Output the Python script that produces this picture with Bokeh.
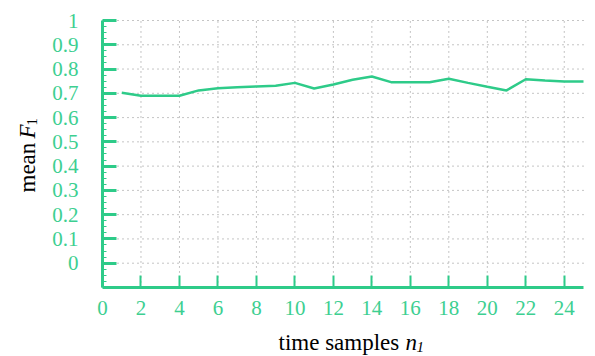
import math
from bokeh.plotting import figure
from bokeh.models import Range1d, FixedTicker, NumeralTickFormatter, Label
from bokeh.embed import file_html
from bokeh.resources import INLINE

# ---- data ----
time_samples = list(range(1, 26))
mean_f1 = [0.702, 0.690, 0.690, 0.690, 0.712, 0.721, 0.725, 0.728, 0.731, 0.743,
           0.720, 0.736, 0.756, 0.769, 0.746, 0.746, 0.746, 0.760, 0.743, 0.727,
           0.712, 0.758, 0.753, 0.749, 0.749]
x_ticks = [0, 2, 4, 6, 8, 10, 12, 14, 16, 18, 20, 22, 24]
y_ticks = [0, 0.1, 0.2, 0.3, 0.4, 0.5, 0.6, 0.7, 0.8, 0.9, 1.0]
x_bounds = (0, 25)
y_bounds = (-0.1, 1.0)

GREEN = "#2ecb89"
LABEL_GREEN = "#3dcf91"
FONT = "Liberation Serif"

# geometry of the canvas (pixels): axis corner and scale
W, H = 595, 356
X0_PX, XPX_PER_UNIT = 102, 19.24
Y1_PX, YPX_PER_UNIT = 20, 242.7

x_start = -X0_PX / XPX_PER_UNIT
x_end = (W - X0_PX) / XPX_PER_UNIT
y_end = 1.0 + Y1_PX / YPX_PER_UNIT
y_start = 1.0 - (H - Y1_PX) / YPX_PER_UNIT

p = figure(width=W, height=H, output_backend="svg", toolbar_location=None,
           x_range=Range1d(x_start, x_end), y_range=Range1d(y_start, y_end),
           min_border=0)
p.title.visible = False
p.outline_line_color = None
p.background_fill_color = "white"
p.border_fill_color = "white"
p.xgrid.visible = False
p.ygrid.visible = False

# dotted grid (drawn from the tick lists, limited to the axis box)
gx = x_ticks[1:]
p.segment(x0=gx, x1=gx, y0=[y_bounds[0]] * len(gx), y1=[y_bounds[1]] * len(gx),
          line_color="#8a8a8a", line_dash="1 4", line_width=1)
p.segment(x0=[x_bounds[0]] * len(y_ticks), x1=[x_bounds[1]] * len(y_ticks),
          y0=y_ticks, y1=y_ticks,
          line_color="#8a8a8a", line_dash="1 4", line_width=1)

p.line(time_samples, mean_f1, line_color=GREEN, line_width=2.5)

y_minor = [round(-0.1 + 0.025 * i, 4) for i in range(45)]
y_minor = [v for v in y_minor if abs(round(v * 10) - v * 10) > 1e-6]

xa = p.xaxis[0]
ya = p.yaxis[0]
xa.fixed_location = y_bounds[0]
ya.fixed_location = x_bounds[0]
xa.bounds = x_bounds
ya.bounds = y_bounds
xa.ticker = FixedTicker(ticks=x_ticks)
ya.ticker = FixedTicker(ticks=y_ticks, minor_ticks=y_minor)
ya.formatter = NumeralTickFormatter(format="0.[0]")

for ax in (xa, ya):
    ax.axis_line_color = GREEN
    ax.axis_line_width = 3
    ax.major_tick_line_color = GREEN
    ax.major_tick_out = 0
    ax.major_label_text_font = FONT
    ax.major_label_text_font_size = "21px"
    ax.major_label_text_color = LABEL_GREEN

xa.major_tick_in = 12
xa.major_tick_line_width = 2
xa.minor_tick_line_color = None
xa.major_label_standoff = 14

ya.major_tick_in = 14
ya.major_tick_line_width = 3
ya.minor_tick_line_color = GREEN
ya.minor_tick_line_width = 1
ya.minor_tick_in = 4
ya.minor_tick_out = 0
ya.major_label_standoff = 24

# ---- axis labels ----
def dx(px):
    return (px - X0_PX) / XPX_PER_UNIT

def dy(py):
    return 1.0 - (py - Y1_PX) / YPX_PER_UNIT

xl_y = dy(342)
p.add_layout(Label(x=dx(278), y=xl_y, text="time samples", text_font=FONT,
                   text_font_size="23px", text_color="black",
                   text_align="left", text_baseline="alphabetic"))
p.add_layout(Label(x=dx(405), y=xl_y, text="n", text_font=FONT,
                   text_font_style="italic", text_font_size="23px",
                   text_color="black", text_align="left",
                   text_baseline="alphabetic"))
p.add_layout(Label(x=dx(416), y=dy(346), text="1", text_font=FONT,
                   text_font_style="italic", text_font_size="15px",
                   text_color="black", text_align="left",
                   text_baseline="alphabetic"))

yl_x = dx(27)
p.add_layout(Label(x=yl_x, y=dy(192), text="mean", text_font=FONT,
                   text_font_size="23px", text_color="black", angle=math.pi / 2,
                   text_align="left", text_baseline="alphabetic"))
p.add_layout(Label(x=yl_x, y=dy(138), text="F", text_font=FONT,
                   text_font_style="italic", text_font_size="23px",
                   text_color="black", angle=math.pi / 2,
                   text_align="left", text_baseline="alphabetic"))
p.add_layout(Label(x=dx(31), y=dy(125), text="1", text_font=FONT,
                   text_font_size="15px", text_color="black", angle=math.pi / 2,
                   text_align="left", text_baseline="alphabetic"))

open("out.html", "w").write(file_html(p, INLINE))
